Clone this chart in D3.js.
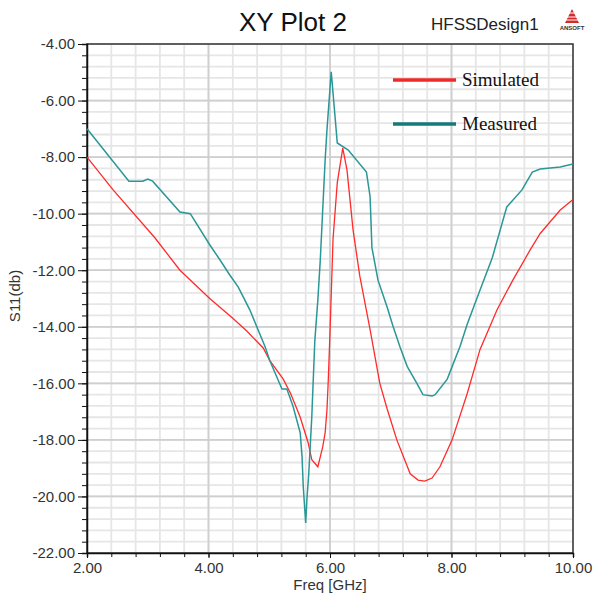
<!DOCTYPE html>
<html>
<head>
<meta charset="utf-8">
<script src="https://cdn.jsdelivr.net/npm/d3@7"></script>
<style>
  body { margin: 0; background: #fff; }
  svg { display: block; }
</style>
</head>
<body>
<div id="chart"></div>
<script>
// Simulated S11 (red)
const simFreq = [2.0, 2.43, 3.12, 3.53, 4.02, 4.4, 4.63, 4.9, 5.01, 5.23, 5.35, 5.51, 5.64, 5.70, 5.80, 5.84, 5.88, 5.92, 5.95, 5.97, 6.0, 6.05, 6.12, 6.21, 6.28, 6.38, 6.49, 6.66, 6.82, 6.94, 7.1, 7.32, 7.45, 7.56, 7.68, 7.81, 8.01, 8.26, 8.47, 8.75, 9.01, 9.29, 9.46, 9.79, 10.0];
const simS11 = [-8.0, -9.16, -10.86, -12.0, -13.0, -13.7, -14.15, -14.75, -15.2, -15.85, -16.35, -17.2, -18.1, -18.7, -18.95, -18.6, -18.25, -17.75, -16.94, -15.98, -14.2, -10.9, -8.9, -7.68, -8.46, -10.58, -12.2, -14.1, -16.0, -16.9, -18.0, -19.2, -19.42, -19.46, -19.35, -18.95, -18.0, -16.35, -14.8, -13.4, -12.35, -11.3, -10.7, -9.87, -9.5];

// Measured S11 (teal)
const measFreq = [2.0, 2.69, 2.92, 3.0, 3.08, 3.53, 3.7, 4.02, 4.19, 4.35, 4.49, 4.68, 4.93, 5.01, 5.21, 5.29, 5.39, 5.51, 5.54, 5.56, 5.60, 5.62, 5.65, 5.70, 5.75, 5.80, 5.84, 5.92, 5.95, 6.02, 6.12, 6.3, 6.6, 6.66, 6.69, 6.79, 6.94, 7.04, 7.15, 7.27, 7.43, 7.53, 7.68, 7.73, 7.93, 8.14, 8.26, 8.47, 8.67, 8.91, 9.16, 9.33, 9.46, 9.79, 10.0];
const measS11 = [-7.0, -8.85, -8.85, -8.78, -8.85, -9.94, -10.0, -11.1, -11.64, -12.17, -12.6, -13.4, -14.7, -15.2, -16.2, -16.2, -16.8, -17.75, -18.6, -19.66, -20.94, -20.1, -19.2, -17.2, -14.5, -13.05, -11.64, -8.1, -7.04, -4.98, -7.5, -7.75, -8.53, -9.4, -11.2, -12.35, -13.3, -14.0, -14.7, -15.4, -16.0, -16.4, -16.45, -16.4, -15.85, -14.7, -13.9, -12.7, -11.57, -9.76, -9.16, -8.53, -8.42, -8.35, -8.24];

const xTicks = [2, 4, 6, 8, 10];
const yTicks = [-4, -6, -8, -10, -12, -14, -16, -18, -20, -22];
const seriesNames = ["Simulated", "Measured"];

const W = 595, H = 593;
const plot = { left: 87, right: 573, top: 44, bottom: 553 };
const fmt = d => d.toFixed(2); // plain hyphen minus, like the original

const svg = d3.select("#chart").append("svg")
    .attr("width", W)
    .attr("height", H)
    .style("font-family", "Arial, 'Liberation Sans', sans-serif");

const x = d3.scaleLinear().domain([2, 10]).range([plot.left, plot.right]);
const y = d3.scaleLinear().domain([-22, -4]).range([plot.bottom, plot.top]);

// minor grid every 0.4
const xMinor = d3.range(2, 10.001, 0.4);
const yMinor = d3.range(-22, -3.999, 0.4);

const grid = svg.append("g");
grid.selectAll(".vx").data(xMinor).enter().append("line")
    .attr("x1", d => x(d)).attr("x2", d => x(d))
    .attr("y1", plot.top).attr("y2", plot.bottom)
    .attr("stroke", "#e6e6e6").attr("stroke-width", 1.8);
grid.selectAll(".hy").data(yMinor).enter().append("line")
    .attr("y1", d => y(d)).attr("y2", d => y(d))
    .attr("x1", plot.left).attr("x2", plot.right)
    .attr("stroke", "#e6e6e6").attr("stroke-width", 1.8);
// major grid
grid.selectAll(".mx").data(xTicks.slice(1, -1)).enter().append("line")
    .attr("x1", d => x(d)).attr("x2", d => x(d))
    .attr("y1", plot.top).attr("y2", plot.bottom)
    .attr("stroke", "#cfcfcf").attr("stroke-width", 1.8);
grid.selectAll(".my").data(yTicks.slice(1, -1)).enter().append("line")
    .attr("y1", d => y(d)).attr("y2", d => y(d))
    .attr("x1", plot.left).attr("x2", plot.right)
    .attr("stroke", "#cfcfcf").attr("stroke-width", 1.8);

// frame
svg.append("rect")
    .attr("x", plot.left).attr("y", plot.top)
    .attr("width", plot.right - plot.left).attr("height", plot.bottom - plot.top)
    .attr("fill", "none").attr("stroke", "#333").attr("stroke-width", 1.5);

// axes
const xAxis = svg.append("g")
    .attr("transform", `translate(0,${plot.bottom})`)
    .call(d3.axisBottom(x).tickValues(xMinor).tickSize(4).tickFormat(""));
xAxis.select(".domain").attr("stroke", "#111").attr("stroke-width", 1.5);
xAxis.selectAll(".tick line").attr("stroke", "#111");

const xLab = svg.append("g")
    .attr("transform", `translate(0,${plot.bottom})`)
    .call(d3.axisBottom(x).tickValues(xTicks).tickSize(5).tickPadding(4).tickFormat(fmt));
xLab.select(".domain").remove();
xLab.selectAll(".tick line").attr("stroke", "#111");
xLab.selectAll("text").attr("font-size", 15).attr("fill", "#333")
    .style("font-family", "Arial, 'Liberation Sans', sans-serif");

const yAxis = svg.append("g")
    .attr("transform", `translate(${plot.left},0)`)
    .call(d3.axisLeft(y).tickValues(yMinor).tickSize(5).tickFormat(""));
yAxis.select(".domain").attr("stroke", "#111").attr("stroke-width", 1.5);
yAxis.selectAll(".tick line").attr("stroke", "#111");

const yLab = svg.append("g")
    .attr("transform", `translate(${plot.left},0)`)
    .call(d3.axisLeft(y).tickValues(yTicks).tickSize(9).tickPadding(3).tickFormat(fmt));
yLab.select(".domain").remove();
yLab.selectAll(".tick line").attr("stroke", "#111");
yLab.selectAll("text").attr("font-size", 15).attr("fill", "#333")
    .style("font-family", "Arial, 'Liberation Sans', sans-serif");

// curves
const line = d3.line().x(d => x(d[0])).y(d => y(d[1]));
const simData = simFreq.map((f, i) => [f, simS11[i]]);
const measData = measFreq.map((f, i) => [f, measS11[i]]);

svg.append("path").datum(simData)
    .attr("d", line).attr("fill", "none")
    .attr("stroke", "#ff2b2b").attr("stroke-width", 1.3);
svg.append("path").datum(measData)
    .attr("d", line).attr("fill", "none")
    .attr("stroke", "#2a9797").attr("stroke-width", 1.5);

// legend
const legendColors = ["#ee2a2a", "#157a7a"];
const legend = svg.append("g");
seriesNames.forEach((name, i) => {
    const ly = 80 + i * 44;
    legend.append("line")
        .attr("x1", 393).attr("x2", 456).attr("y1", ly).attr("y2", ly)
        .attr("stroke", legendColors[i]).attr("stroke-width", 3.5);
    legend.append("text")
        .attr("x", 462).attr("y", ly + 6)
        .attr("font-family", "'Liberation Serif', 'Times New Roman', serif")
        .attr("font-size", 19).attr("fill", "#111")
        .text(name);
});

// titles
svg.append("text").attr("x", 293).attr("y", 31)
    .attr("text-anchor", "middle").attr("font-size", 26).attr("fill", "#111")
    .text("XY Plot 2");
svg.append("text").attr("x", 431).attr("y", 30)
    .attr("font-size", 17).attr("fill", "#222")
    .text("HFSSDesign1");

// ansoft logo
const logo = svg.append("g").attr("transform", "translate(572,9)");
logo.append("path").attr("d", "M0,0 L7,14 L-7,14 Z").attr("fill", "#d42a2a");
[4, 8, 11].forEach(yy => {
    logo.append("line").attr("x1", -8).attr("x2", 8).attr("y1", yy).attr("y2", yy)
        .attr("stroke", "#fff").attr("stroke-width", 1);
});
logo.append("text").attr("x", 0).attr("y", 21).attr("text-anchor", "middle")
    .attr("font-size", 6).attr("font-weight", "bold").attr("fill", "#333")
    .text("ANSOFT");

// axis titles
svg.append("text").attr("x", 330).attr("y", 590)
    .attr("text-anchor", "middle").attr("font-size", 15).attr("fill", "#333")
    .text("Freq [GHz]");
svg.append("text")
    .attr("transform", "translate(20,296) rotate(-90)")
    .attr("text-anchor", "middle").attr("font-size", 15).attr("fill", "#333")
    .text("S11(db)");
</script>
</body>
</html>
